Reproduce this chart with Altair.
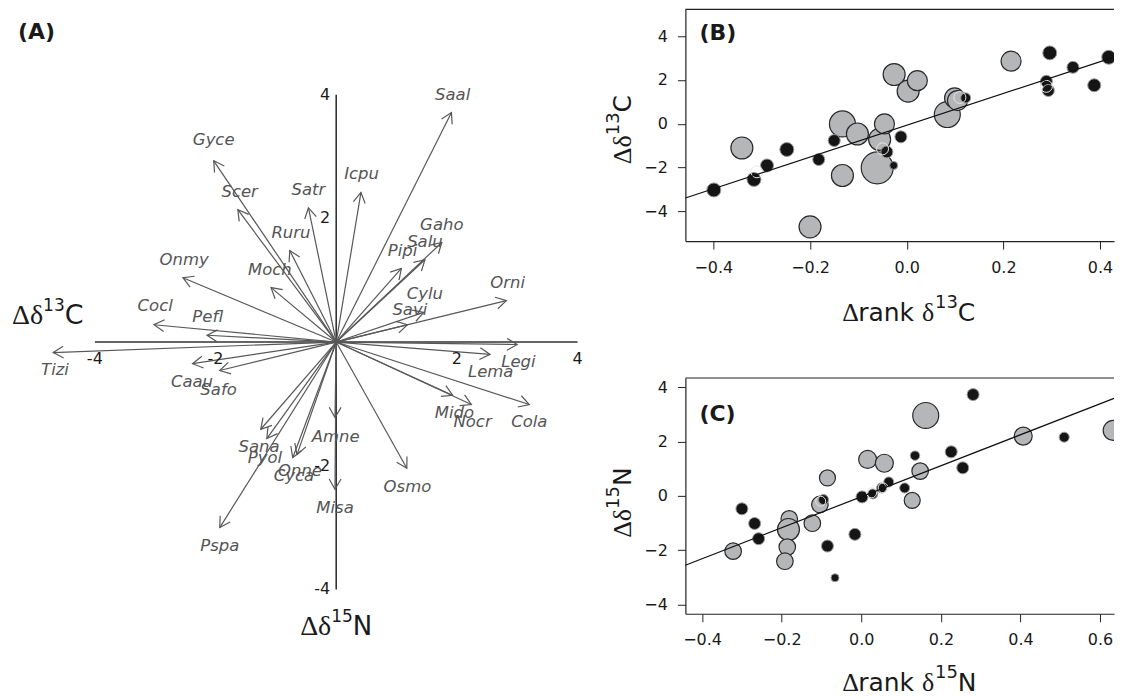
import altair as alt
import pandas as pd
import numpy as np

# ---------------- Panel A data (arrow biplot) ----------------
species = ["Saal", "Icpu", "Gaho", "Salu", "Pipi", "Orni", "Cylu", "Savi", "Legi", "Lema",
           "Cola", "Nocr", "Mido", "Osmo", "Misa", "Amne", "Onne", "Cyca", "Pyol", "Sana",
           "Pspa", "Safo", "Caau", "Tizi", "Pefl", "Cocl", "Onmy", "Moch", "Ruru", "Scer",
           "Satr", "Gyce"]
tip_x = [1.91, 0.41, 1.75, 1.47, 1.08, 2.82, 1.45, 1.18, 3.00, 2.55,
         3.20, 2.24, 1.93, 1.17, -0.02, -0.02, -0.72, -0.65, -1.15, -1.25,
         -1.93, -1.93, -2.38, -4.69, -2.14, -3.02, -2.54, -1.08, -0.77, -1.63,
         -0.46, -2.03]
tip_y = [3.71, 2.42, 1.61, 1.33, 1.19, 0.67, 0.48, 0.28, -0.04, -0.20,
         -1.01, -1.01, -0.86, -2.04, -2.38, -1.22, -1.87, -1.82, -1.56, -1.41,
         -3.00, -0.46, -0.35, -0.17, 0.11, 0.28, 1.04, 0.88, 1.48, 2.14,
         2.17, 2.93]
lab_x = [1.93, 0.42, 1.75, 1.47, 1.10, 2.84, 1.47, 1.22, 3.02, 2.56,
         3.20, 2.26, 1.96, 1.18, -0.02, -0.01, -0.60, -0.70, -1.18, -1.28,
         -1.93, -1.95, -2.39, -4.66, -2.13, -3.00, -2.52, -1.10, -0.75, -1.60,
         -0.46, -2.03]
lab_y = [4.00, 2.71, 1.90, 1.62, 1.48, 0.96, 0.78, 0.51, -0.33, -0.49,
         -1.30, -1.30, -1.14, -2.35, -2.69, -1.54, -2.09, -2.16, -1.87, -1.69,
         -3.30, -0.78, -0.65, -0.46, 0.40, 0.59, 1.32, 1.17, 1.77, 2.43,
         2.46, 3.27]
a_ticks = [-4, -2, 2, 4]
a_tick_text = ["-4", "-2", "2", "4"]
a_extent = [-4, 4]

# ---------------- Panel B data ----------------
b_grey_x = [-0.341, -0.200, -0.133, -0.133, -0.102, -0.061, -0.056, -0.046, -0.026, 0.003,
            0.022, 0.084, 0.099, 0.105, 0.216]
b_grey_y = [-1.11, -4.72, -2.37, -0.01, -0.47, -2.02, -0.72, -0.01, 2.25, 1.49,
            1.97, 0.42, 1.18, 1.06, 2.86]
b_grey_w = [11, 11, 11, 13, 11, 16, 11, 10, 11, 11, 10, 13, 10, 10, 10]
b_black_x = [-0.399, -0.316, -0.289, -0.248, -0.182, -0.150, -0.041, -0.027, -0.012, 0.122,
             0.289, 0.293, 0.296, 0.344, 0.388, 0.418]
b_black_y = [-3.03, -2.55, -1.91, -1.18, -1.64, -0.77, -1.29, -1.91, -0.60, 1.18,
             1.94, 1.52, 3.24, 2.58, 1.76, 3.04]
b_black_w = [7, 7, 6.5, 7, 6, 6, 6, 4, 6, 5, 6, 6, 7, 6, 6.5, 7]
b_ring_x = [-0.310, 0.289, -0.050, 0.110]
b_ring_y = [-2.20, 1.71, -1.15, 1.20]
b_ring_w = [6, 6, 6, 6]
b_intercept, b_slope = -0.07, 7.27
b_xticks = [-0.4, -0.2, 0.0, 0.2, 0.4]

# ---------------- Panel C data ----------------
c_grey_x = [-0.322, -0.181, -0.183, -0.186, -0.192, -0.123, -0.104, -0.085, 0.016, 0.058,
            0.162, 0.148, 0.128, 0.407, 0.633]
c_grey_y = [-2.04, -0.85, -1.24, -1.89, -2.41, -1.01, -0.32, 0.66, 1.34, 1.20,
            2.96, 0.91, -0.17, 2.20, 2.41]
c_grey_w = [8.3, 8.3, 11, 8.3, 8.3, 8.3, 8.3, 8, 9, 9, 13, 8.3, 8, 9, 10]
c_black_x = [-0.300, -0.268, -0.258, -0.095, -0.085, -0.066, -0.016, 0.002, 0.029, 0.051,
             0.069, 0.109, 0.135, 0.226, 0.255, 0.281, 0.510]
c_black_y = [-0.48, -1.02, -1.58, -0.14, -1.85, -3.02, -1.42, -0.04, 0.07, 0.29,
             0.51, 0.29, 1.48, 1.62, 1.03, 3.73, 2.16]
c_black_w = [6, 6, 6, 5, 6, 4, 6, 6, 5, 5, 5, 5, 4.7, 6, 6, 6, 5]
c_ring_x = [-0.102, 0.026, 0.055]
c_ring_y = [-0.20, 0.11, 0.29]
c_ring_w = [5, 5, 5]
c_intercept, c_slope = -0.035, 5.71
c_xticks = [-0.4, -0.2, 0.0, 0.2, 0.4, 0.6]

y_ticks = [-4, -2, 0, 2, 4]

# ---------------- styles ----------------
SANS = "DejaVu Sans"
SERIF = "Liberation Serif"
INK = "#1a1a1a"
ARROW = "#585858"
LABEL = "#555555"
GREY_FILL = "#b4b6b8"
one = pd.DataFrame({"k": [0]})

WIDTHS = {
    SANS: {"1": 0.636, "3": 0.636, "5": 0.636, "C": 0.698, "N": 0.748, "r": 0.411,
           "a": 0.613, "n": 0.634, "k": 0.579, " ": 0.318},
    SERIF: {"Δ": 0.612, "δ": 0.5},
}


def text_width(t, font, size):
    return sum(WIDTHS[font].get(ch, 0.6) for ch in t) * size


def chain(parts, x, y, angle=0):
    layers = []
    pos = 0.0
    for t, font, size, rise in parts:
        if angle == 0:
            px, py = x + pos, y - rise
        else:
            px, py = x - rise, y - pos
        layers.append(
            alt.Chart(one).mark_text(text=t, font=font, fontSize=size, align="left",
                                     baseline="alphabetic", angle=angle, color=INK)
            .encode(x=alt.value(px), y=alt.value(py))
        )
        pos += text_width(t, font, size)
    return layers


def total_width(parts):
    return sum(text_width(t, f, s) for t, f, s, _ in parts)


# ---------------- Panel A ----------------
WA, HA = 598, 680
AX = [-5.439, 4.462]
AY = [-5.605, 5.380]
kx = WA / (AX[1] - AX[0])
ky = HA / (AY[1] - AY[0])
xsA = alt.Scale(domain=AX, nice=False, zero=False)
ysA = alt.Scale(domain=AY, nice=False, zero=False)

dfA = pd.DataFrame({"sp": species, "tx": tip_x, "ty": tip_y, "lx": lab_x, "ly": lab_y})
dfA["ox"] = 0.0
dfA["oy"] = 0.0
dfA["ang"] = (np.degrees(np.arctan2(dfA["tx"] * kx, dfA["ty"] * ky)) + 360) % 360

axes_df = pd.DataFrame({"x": [a_extent[0], 0], "x2": [a_extent[1], 0],
                        "y": [0, a_extent[0]], "y2": [0, a_extent[1]]})
axes_lines = alt.Chart(axes_df).mark_rule(color="#333333", strokeWidth=1.6).encode(
    x=alt.X("x:Q", scale=xsA, axis=None), y=alt.Y("y:Q", scale=ysA, axis=None),
    x2="x2:Q", y2="y2:Q")

shafts = alt.Chart(dfA).mark_rule(color=ARROW, strokeWidth=1.2).encode(
    x=alt.X("ox:Q", scale=xsA, axis=None), y=alt.Y("oy:Q", scale=ysA, axis=None),
    x2="tx:Q", y2="ty:Q")

heads = alt.Chart(dfA).mark_point(
    shape="M -0.5 0.866 L 0 0 L 0.5 0.866", size=560, filled=False,
    color=ARROW, strokeWidth=1.2, opacity=1).encode(
    x=alt.X("tx:Q", scale=xsA, axis=None), y=alt.Y("ty:Q", scale=ysA, axis=None),
    angle=alt.Angle("ang:Q", scale=None))

sp_labels = alt.Chart(dfA).mark_text(font=SANS, fontSize=16.5, fontStyle="italic",
                                     color=LABEL, baseline="middle").encode(
    x=alt.X("lx:Q", scale=xsA, axis=None), y=alt.Y("ly:Q", scale=ysA, axis=None),
    text="sp:N")

tick_df = pd.DataFrame({"v": a_ticks, "t": a_tick_text, "z": [0] * len(a_ticks)})
xt_labels = alt.Chart(tick_df).mark_text(font=SANS, fontSize=16, color=INK,
                                         baseline="middle", dy=17).encode(
    x=alt.X("v:Q", scale=xsA, axis=None), y=alt.Y("z:Q", scale=ysA, axis=None), text="t:N")
yt_labels = alt.Chart(tick_df).mark_text(font=SANS, fontSize=16, color=INK,
                                         baseline="middle", align="right", dx=-6).encode(
    x=alt.X("z:Q", scale=xsA, axis=None), y=alt.Y("v:Q", scale=ysA, axis=None), text="t:N")

tagA = alt.Chart(one).mark_text(text="(A)", font=SANS, fontSize=22, fontWeight="bold",
                                align="left", baseline="alphabetic", color=INK).encode(
    x=alt.value(10), y=alt.value(30))

a_left_title = [("Δδ", SERIF, 28, 0), ("13", SANS, 17, 13), ("C", SANS, 27, 0)]
a_bottom_title = [("Δδ", SERIF, 28, 0), ("15", SANS, 17, 13), ("N", SANS, 26, 0)]
zero_px = (0 - AX[0]) * kx

panelA = alt.layer(
    axes_lines, shafts, heads, sp_labels, xt_labels, yt_labels, tagA,
    *chain(a_left_title, 4, 315),
    *chain(a_bottom_title, zero_px - total_width(a_bottom_title) / 2, 626),
).properties(width=WA, height=HA)


# ---------------- Scatter panels ----------------
def scatter_panel(gx, gy, gw, bx, by, bw, rx, ry, rw, a, b, X, Y, W, H, xticks, tag,
                  tag_y, xtitle, xtitle_pos, ytitle, ytitle_pos):
    common_axis = dict(domain=True, domainColor="#222222", domainWidth=1.2, ticks=True,
                       tickSize=8, tickColor="#222222", tickWidth=1, labelFont=SANS,
                       labelFontSize=16, labelColor=INK, labelPadding=10, grid=False,
                       title=None, labelFlush=False, labelOverlap=False)
    xenc = alt.X("x:Q", scale=alt.Scale(domain=X, nice=False, zero=False),
                 axis=alt.Axis(values=xticks, format=".1f", **common_axis))
    yenc = alt.Y("y:Q", scale=alt.Scale(domain=Y, nice=False, zero=False),
                 axis=alt.Axis(values=y_ticks, format="d", **common_axis))
    size = alt.Size("w:Q", scale=alt.Scale(type="pow", exponent=2, domain=[0, 10],
                                           range=[0, 400]), legend=None)
    grey = alt.Chart(pd.DataFrame({"x": gx, "y": gy, "w": gw})).mark_circle(
        fill=GREY_FILL, stroke="#2a2a2a", strokeWidth=1.2, opacity=1, clip=True).encode(
        x=xenc, y=yenc, size=size)
    black = alt.Chart(pd.DataFrame({"x": bx, "y": by, "w": bw})).mark_circle(
        fill="#151515", stroke="#9a9a9a", strokeWidth=1.0, opacity=1, clip=True).encode(
        x=xenc, y=yenc, size=size)
    rings = alt.Chart(pd.DataFrame({"x": rx, "y": ry, "w": rw})).mark_point(
        shape="circle", filled=False, stroke="#e6e6e6", strokeWidth=1.0, opacity=1,
        clip=True).encode(x=xenc, y=yenc, size=size)
    line_df = pd.DataFrame({"x": [X[0]], "x2": [X[1]],
                            "y": [a + b * X[0]], "y2": [a + b * X[1]]})
    line = alt.Chart(line_df).mark_rule(color="#111111", strokeWidth=1.2).encode(
        x=xenc, y=yenc, x2="x2:Q", y2="y2:Q")
    top = alt.Chart(one).mark_rule(color="#222222", strokeWidth=1.2).encode(
        x=alt.value(0), x2=alt.value(W), y=alt.value(0))
    tag_mark = alt.Chart(one).mark_text(text=tag, font=SANS, fontSize=22, fontWeight="bold",
                                        align="left", baseline="alphabetic", color=INK).encode(
        x=alt.value(14), y=alt.value(tag_y))
    return alt.layer(
        grey, black, rings, line, top, tag_mark,
        *chain(xtitle, *xtitle_pos),
        *chain(ytitle, *ytitle_pos, angle=270),
    ).properties(width=W, height=H)


WB, HB = 429, 232
BX = [-0.4579, 0.4289]
BY = [-5.371, 5.234]
WC, HC = 429, 236
CX = [-0.4420, 0.6351]
CY = [-4.346, 4.342]

b_xtitle = [("Δ", SERIF, 26, 0), ("rank ", SANS, 25, 0), ("δ", SERIF, 26, 0),
            ("13", SANS, 18, 13), ("C", SANS, 25, 0)]
c_xtitle = [("Δ", SERIF, 26, 0), ("rank ", SANS, 25, 0), ("δ", SERIF, 26, 0),
            ("15", SANS, 18, 13), ("N", SANS, 25, 0)]
b_ytitle = [("Δδ", SERIF, 26, 0), ("13", SANS, 18, 12), ("C", SANS, 25, 0)]
c_ytitle = [("Δδ", SERIF, 26, 0), ("15", SANS, 18, 12), ("N", SANS, 25, 0)]

panelB = scatter_panel(b_grey_x, b_grey_y, b_grey_w, b_black_x, b_black_y, b_black_w,
                       b_ring_x, b_ring_y, b_ring_w, b_intercept, b_slope, BX, BY, WB, HB,
                       b_xticks, "(B)", 31, b_xtitle, (157, 312), b_ytitle, (-54, 155))
panelC = scatter_panel(c_grey_x, c_grey_y, c_grey_w, c_black_x, c_black_y, c_black_w,
                       c_ring_x, c_ring_y, c_ring_w, c_intercept, c_slope, CX, CY, WC, HC,
                       c_xticks, "(C)", 43, c_xtitle, (157, 313), c_ytitle, (-54, 160))

right = alt.vconcat(panelB, panelC, spacing=137, bounds="flush")
chart = alt.hconcat(panelA, right, spacing=80, bounds="flush").properties(
    padding=0
).configure_view(stroke=None)

chart.save("out.html", embed_options={"renderer": "svg", "actions": False})
